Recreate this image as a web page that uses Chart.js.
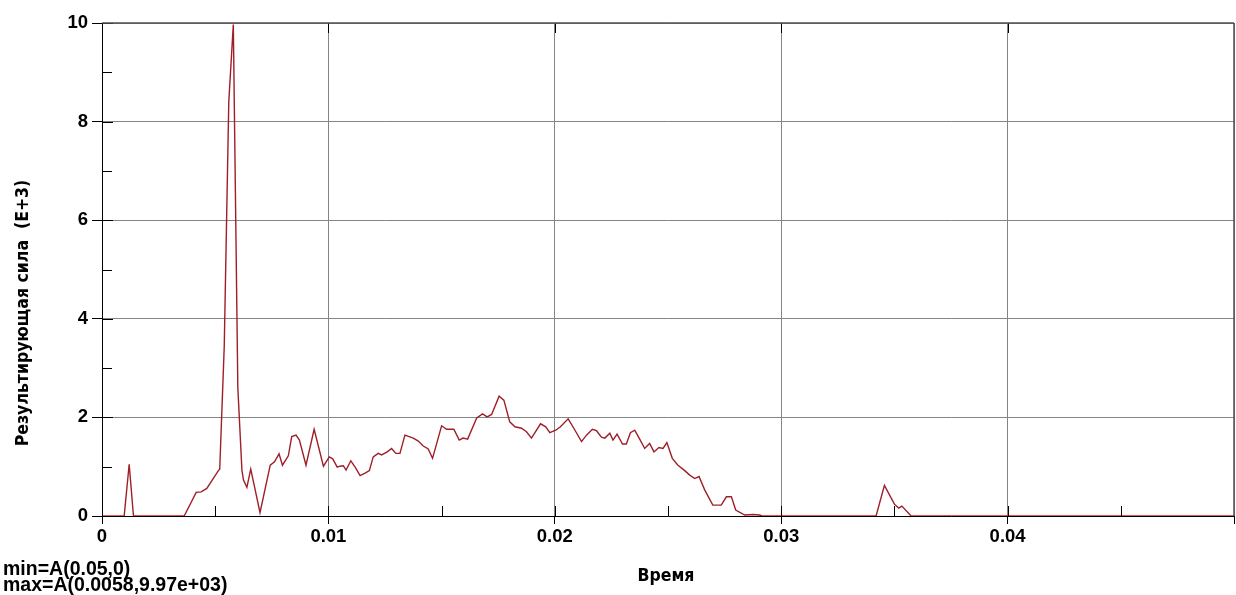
<!DOCTYPE html>
<html>
<head>
<meta charset="utf-8">
<script src="https://cdn.jsdelivr.net/npm/chart.js@4.4.1/dist/chart.umd.min.js"></script>
<style>
  html, body { margin: 0; padding: 0; background: #fff; }
  canvas { display: block; }
</style>
</head>
<body>
<canvas id="c" width="1236" height="595"></canvas>
<script>
// Resultant force history, time in s, force in thousands (E+3)
const times = [0, 0.00098, 0.00120, 0.00139, 0.00363, 0.00416, 0.00438, 0.00463, 0.00514, 0.00520,
  0.00540, 0.00560, 0.00580, 0.00600, 0.00618, 0.00625, 0.00640, 0.00657, 0.00698, 0.00743,
  0.00762, 0.00782, 0.00797, 0.00823, 0.00838, 0.00857, 0.00872, 0.00901, 0.00937, 0.00978,
  0.01004, 0.01019, 0.01039, 0.01051, 0.01066, 0.01078, 0.01099, 0.01118, 0.01140, 0.01162,
  0.01181, 0.01198, 0.01220, 0.01235, 0.01260, 0.01279, 0.01298, 0.01316, 0.01338, 0.01375,
  0.01397, 0.01419, 0.01441, 0.01460, 0.01500, 0.01522, 0.01554, 0.01578, 0.01595, 0.01615,
  0.01655, 0.01681, 0.01701, 0.01721, 0.01754, 0.01775, 0.01801, 0.01824, 0.01853, 0.01875,
  0.01897, 0.01937, 0.01960, 0.01978, 0.02004, 0.02025, 0.02059, 0.02084, 0.02118, 0.02140,
  0.02166, 0.02184, 0.02206, 0.02221, 0.02243, 0.02257, 0.02275, 0.02299, 0.02316, 0.02334,
  0.02353, 0.02375, 0.02397, 0.02419, 0.02438, 0.02460, 0.02478, 0.02495, 0.02519, 0.02544,
  0.02574, 0.02596, 0.02618, 0.02637, 0.02662, 0.02698, 0.02735, 0.02758, 0.02780, 0.02799,
  0.02839, 0.02875, 0.02904, 0.02916, 0.03419, 0.03456, 0.03500, 0.03519, 0.03533, 0.03574,
  0.05];
const forces = [0, 0, 1.05, 0, 0, 0.48, 0.49, 0.56, 0.92, 0.95,
  3.45, 8.4, 9.97, 2.6, 0.93, 0.73, 0.58, 0.95, 0.07, 1.03,
  1.10, 1.26, 1.03, 1.22, 1.61, 1.64, 1.54, 1.03, 1.76, 1.01,
  1.20, 1.16, 0.99, 1.01, 1.02, 0.93, 1.12, 0.99, 0.82, 0.87,
  0.92, 1.20, 1.27, 1.24, 1.30, 1.37, 1.27, 1.27, 1.64, 1.58,
  1.52, 1.42, 1.36, 1.17, 1.83, 1.76, 1.76, 1.54, 1.58, 1.56,
  1.99, 2.07, 2.01, 2.06, 2.43, 2.35, 1.91, 1.81, 1.78, 1.71,
  1.58, 1.87, 1.81, 1.69, 1.74, 1.81, 1.97, 1.78, 1.51, 1.64,
  1.76, 1.73, 1.60, 1.58, 1.68, 1.54, 1.66, 1.46, 1.46, 1.69,
  1.74, 1.56, 1.37, 1.47, 1.30, 1.39, 1.37, 1.49, 1.17, 1.03,
  0.92, 0.83, 0.76, 0.80, 0.53, 0.22, 0.22, 0.39, 0.39, 0.12,
  0.02, 0.03, 0.02, 0, 0, 0.62, 0.24, 0.16, 0.20, 0,
  0];

const xTickValues = [0, 0.01, 0.02, 0.03, 0.04];
const xTickLabels = ['0', '0.01', '0.02', '0.03', '0.04'];
const xMinorValues = [0.005, 0.015, 0.025, 0.035, 0.045];
const yTickValues = [0, 2, 4, 6, 8, 10];
const yTickLabels = ['0', '2', '4', '6', '8', '10'];
const yMinorValues = [1, 3, 5, 7, 9];
const xTitle = 'Время';
const yTitle = 'Результирующая сила  (E+3)';
const statLines = ['min=A(0.05,0)', 'max=A(0.0058,9.97e+03)'];

const tickFont = { family: '"Liberation Sans", Arial, sans-serif', size: 18.5, weight: 'bold' };
const titleFamily = '"Liberation Sans Narrow", "DejaVu Sans Condensed", "Liberation Sans", sans-serif';

// Frame, inner tick marks, axis titles and the min/max note
const decorations = {
  id: 'decorations',
  afterDatasetsDraw(chart) {
    const { ctx, chartArea: a, scales: { x, y } } = chart;
    ctx.save();
    ctx.strokeStyle = '#000';
    ctx.lineWidth = 1;
    const seg = (x1, y1, x2, y2) => { ctx.beginPath(); ctx.moveTo(x1, y1); ctx.lineTo(x2, y2); ctx.stroke(); };
    xMinorValues.forEach(v => {
      const px = Math.round(x.getPixelForValue(v)) + 0.5;
      seg(px, a.bottom, px, a.bottom - 10);
    });
    xTickValues.forEach(v => {
      const px = Math.round(x.getPixelForValue(v)) + 0.5;
      seg(px, a.bottom, px, a.bottom - 10);
      seg(px, a.top, px, a.top + 10);
    });
    yMinorValues.forEach(v => {
      const py = Math.round(y.getPixelForValue(v)) + 0.5;
      seg(a.left, py, a.left + 10, py);
    });
    yTickValues.forEach(v => {
      const py = Math.round(y.getPixelForValue(v)) + 0.5;
      seg(a.left, py, a.left + 11, py);
    });
    // top and right frame
    ctx.strokeStyle = '#505050';
    ctx.lineWidth = 1.5;
    seg(a.left, a.top, a.right, a.top);
    seg(a.right, a.top, a.right, a.bottom);
    ctx.restore();
  },
  afterDraw(chart) {
    const { ctx } = chart;
    ctx.save();
    ctx.fillStyle = '#000';
    // y axis title
    ctx.save();
    ctx.translate(28, 313);
    ctx.rotate(-Math.PI / 2);
    ctx.font = 'bold 17.5px ' + titleFamily;
    ctx.textAlign = 'center';
    ctx.textBaseline = 'alphabetic';
    ctx.fillText(yTitle, 0, 0);
    ctx.restore();
    // x axis title
    ctx.font = 'bold 17.5px ' + titleFamily;
    ctx.textAlign = 'center';
    ctx.textBaseline = 'alphabetic';
    ctx.fillText(xTitle, 666, 581);
    // min / max note
    ctx.font = 'bold 19.5px "Liberation Sans", Arial, sans-serif';
    ctx.textAlign = 'left';
    ctx.fillText(statLines[0], 3, 575);
    ctx.fillText(statLines[1], 3, 590.5);
    ctx.restore();
  }
};

const points = times.map((t, i) => ({ x: t, y: forces[i] }));

new Chart(document.getElementById('c'), {
  type: 'line',
  data: {
    datasets: [{
      data: points,
      borderColor: '#9e1f28',
      borderWidth: 1.4,
      pointRadius: 0,
      tension: 0,
      fill: false,
      segment: {
        borderColor: ctx => (ctx.p0.parsed.y === 0 && ctx.p1.parsed.y === 0) ? '#e01b1b' : '#9e1f28'
      }
    }]
  },
  options: {
    responsive: false,
    animation: false,
    devicePixelRatio: 1,
    layout: { padding: { top: 23, right: 1, left: 0, bottom: 0 } },
    plugins: { legend: { display: false }, tooltip: { enabled: false }, title: { display: false } },
    scales: {
      x: {
        type: 'linear',
        min: 0,
        max: 0.05,
        afterFit(scale) { scale.height = 79; },
        afterBuildTicks(scale) {
          scale.ticks = [...xTickValues, 0.05].map(v => ({ value: v }));
        },
        border: { display: true, color: '#000', width: 1 },
        grid: { color: '#858585', lineWidth: 1, tickLength: 8, tickColor: '#000', drawTicks: true },
        ticks: {
          color: '#000',
          font: tickFont,
          padding: 2,
          maxRotation: 0,
          autoSkip: false,
          callback(value) {
            const i = xTickValues.findIndex(v => Math.abs(v - value) < 1e-9);
            return i >= 0 ? xTickLabels[i] : '';
          }
        }
      },
      y: {
        min: 0,
        max: 10,
        afterFit(scale) { scale.width = 102; },
        afterBuildTicks(scale) {
          scale.ticks = yTickValues.map(v => ({ value: v }));
        },
        border: { display: true, color: '#000', width: 1 },
        grid: { color: '#858585', lineWidth: 1, tickLength: 10, tickColor: '#000', drawTicks: true },
        ticks: {
          color: '#000',
          font: tickFont,
          padding: 4,
          callback(value) {
            const i = yTickValues.indexOf(value);
            return i >= 0 ? yTickLabels[i] : '';
          }
        }
      }
    }
  },
  plugins: [decorations]
});
</script>
</body>
</html>
